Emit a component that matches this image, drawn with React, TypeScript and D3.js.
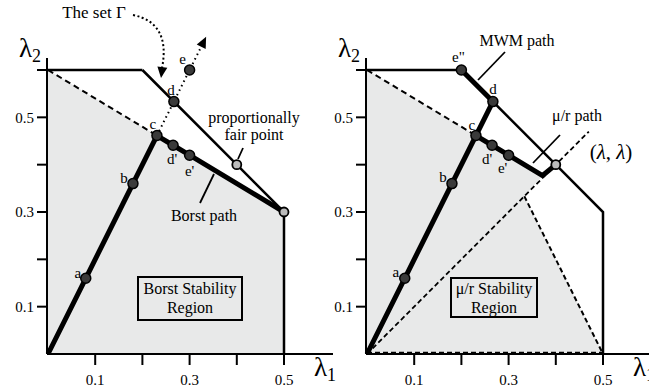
import React from 'react';
import * as d3 from 'd3';

// axis ticks (only odd tenths are labelled)
const xTicks = [0.1, 0.2, 0.3, 0.4, 0.5];
const yTicks = [0.1, 0.2, 0.3, 0.4, 0.5, 0.6];
const xTickLabels = ['0.1', '', '0.3', '', '0.5'];
const yTickLabels = ['0.1', '', '0.3', '', '0.5', ''];

// the set Gamma (capacity region outline)
const capacityTop = [[0, 0.6], [0.2, 0.6]];
const capacityEdge = [[0.2, 0.6], [0.4, 0.4], [0.5, 0.3], [0.5, 0]];

// stability regions
const borstRegion = [[0, 0], [0, 0.6], [0.5, 0.3], [0.5, 0]];
const muRRegion = [[0, 0], [0, 0.6], [0.372, 0.377], [1 / 3, 1 / 3], [0.5, 0]];

// named points
const pointNames = ['a', 'b', 'c', 'd', 'e', "d'", "e'", 'e"'];
const pointX = [0.08, 0.18, 0.2308, 0.2667, 0.3, 0.265, 0.3, 0.2];
const pointY = [0.16, 0.36, 0.4615, 0.5333, 0.6, 0.441, 0.42, 0.6];
const P = (n: string) => { const i = pointNames.indexOf(n); return [pointX[i], pointY[i]]; };

// paths
const borstPath = [[0, 0], P('a'), P('b'), P('c'), P("d'"), P("e'"), [0.5, 0.3]];
const leftDotted = [P('c'), P('d'), P('e'), [0.322, 0.644]];
const arrowTip = [0.335, 0.67];
const mwmPath = [[0, 0], P('a'), P('b'), P('c'), P('d'), P('e"')];
const muRPath = [P('c'), P("d'"), P("e'"), [0.372, 0.377], [0.4, 0.4]];
const leftDashed = [[0, 0.6], P('c')];
const diagLine = [[0, 0], [0.47, 0.47]];
const muRDashEdge = [[1 / 3, 1 / 3], [0.5, 0]];
const muRDashBase = [[0, 0], [0.5, 0]];

const leftDots = ['a', 'b', 'c', 'd', 'e', "d'", "e'"];
const leftOpen = [[0.4, 0.4], [0.5, 0.3]];
const rightDots = ['a', 'b', 'c', 'd', "d'", "e'", 'e"'];
const rightOpen = [[0.4, 0.4]];

const labelOffL: Record<string, number[]> = {
  a: [-8, -6], b: [-9, -6], c: [-4, -12], d: [-3, -12], e: [-7, -11], "d'": [-1, 13], "e'": [0, 16],
};
const labelOffR: Record<string, number[]> = {
  a: [-9, -7], b: [-9, -7], c: [-4, -11], d: [0, -13], "d'": [-5, 13], "e'": [-6, 13], 'e"': [-3, -13],
};

const W = 649;
const H = 390;
const TS = { fontFamily: '"Liberation Serif"' };

const y = d3.scaleLinear().domain([0, 0.6]).range([354, 70]);

function Txt(props: any) {
  return <text {...props} style={TS} />;
}

function Panel({ x0, xEnd, children }: { x0: number; xEnd: number; children?: any }) {
  const x = d3.scaleLinear().domain([0, 0.5]).range([x0, x0 + 236]);
  return (
    <g>
      {children(x)}
      {/* axes */}
      <line x1={x0 - 1} y1={354} x2={x0 - 1} y2={58} stroke="#000" strokeWidth={2} />
      <line x1={x0 - 1} y1={354} x2={xEnd} y2={354} stroke="#000" strokeWidth={2} />
      {yTicks.map((t, i) => (
        <g key={'y' + i}>
          <line x1={x0 - 11} x2={x0 - 1} y1={y(t)} y2={y(t)} stroke="#000" strokeWidth={2} />
          {yTickLabels[i] && (
            <Txt x={x0 - 14} y={y(t)} dy="0.35em" textAnchor="end" fontSize={15}>{yTickLabels[i]}</Txt>
          )}
        </g>
      ))}
      {xTicks.map((t, i) => (
        <g key={'x' + i}>
          <line x1={x(t)} x2={x(t)} y1={354} y2={365} stroke="#000" strokeWidth={2} />
          {xTickLabels[i] && (
            <Txt x={x(t)} y={380} dy="0.35em" textAnchor="middle" fontSize={15}>{xTickLabels[i]}</Txt>
          )}
        </g>
      ))}
      <Txt x={x0 - 29} y={57} fontSize={27}>λ<tspan fontSize={18} dy={5}>2</tspan></Txt>
      <Txt x={x0 + 266} y={376} fontSize={27}>λ<tspan fontSize={18} dy={5}>1</tspan></Txt>
    </g>
  );
}

export default function App() {
  const line = (x: any) => d3.line<number[]>().x(d => x(d[0])).y(d => y(d[1]));

  const dot = (x: any, p: number[], k: string) => (
    <circle key={k} cx={x(p[0])} cy={y(p[1])} r={5} fill="#3a3a3a" stroke="#000" strokeWidth={1.5} />
  );
  const open = (x: any, p: number[], k: string) => (
    <circle key={k} cx={x(p[0])} cy={y(p[1])} r={4.5} fill="#bbb" stroke="#000" strokeWidth={1.8} />
  );
  const label = (x: any, n: string, off: number[]) => (
    <Txt key={'l' + n} x={x(P(n)[0]) + off[0]} y={y(P(n)[1]) + off[1]} dy="0.35em" textAnchor="middle"
      fontSize={15}>{n}</Txt>
  );

  const arrowHead = (x: any, from: number[], to: number[]) => {
    const ax = x(to[0]), ay = y(to[1]);
    const bx = x(from[0]), by = y(from[1]);
    const ang = Math.atan2(ay - by, ax - bx);
    const L = 11, Wd = 5;
    const px = ax - L * Math.cos(ang), py = ay - L * Math.sin(ang);
    const pts = [
      [ax, ay],
      [px + Wd * Math.sin(ang), py - Wd * Math.cos(ang)],
      [px - Wd * Math.sin(ang), py + Wd * Math.cos(ang)],
    ];
    return <polygon points={pts.map(p => p.join(',')).join(' ')} fill="#000" />;
  };

  return (
    <svg width={W} height={H} style={{ position: 'absolute', left: 0, top: 0, background: '#fff' }}>
      {/* LEFT PANEL */}
      <Panel x0={48} xEnd={333}>
        {(x: any) => {
          const ln = line(x);
          return (
            <g>
              <path d={ln(borstRegion as any) + 'Z'} fill="#e8e9e9" />
              <path d={ln(capacityTop as any)!} fill="none" stroke="#000" strokeWidth={2.5} />
              <path d={ln(capacityEdge as any)!} fill="none" stroke="#000" strokeWidth={2.5} />
              <path d={ln(leftDashed as any)!} fill="none" stroke="#000" strokeWidth={2} strokeDasharray="6,4" />
              <path d={ln(leftDotted as any)!} fill="none" stroke="#000" strokeWidth={2} strokeDasharray="1.5,3.5" />
              {arrowHead(x, P('e'), arrowTip)}
              <path d={ln(borstPath as any)!} fill="none" stroke="#000" strokeWidth={5} strokeLinejoin="round" />
              {leftDots.map(n => dot(x, P(n), 'd' + n))}
              {leftOpen.map((p, i) => open(x, p, 'o' + i))}
              {leftDots.map(n => label(x, n, labelOffL[n]))}
              {/* annotations */}
              <Txt x={94} y={12} dy="0.35em" fontSize={17} textAnchor="middle">The set Γ</Txt>
              <path d="M133,15 C158,20 168,38 162,68" fill="none" stroke="#000" strokeWidth={2} strokeDasharray="2,2.5" />
              {arrowHead(x, [x.invert(163), y.invert(62)], [x.invert(161), y.invert(78)])}
              <Txt x={254} y={117} dy="0.35em" fontSize={16} textAnchor="middle">proportionally</Txt>
              <Txt x={254} y={134} dy="0.35em" fontSize={16} textAnchor="middle">fair point</Txt>
              <line x1={243} y1={148} x2={238} y2={159} stroke="#000" strokeWidth={1.8} />
              <line x1={200} y1={203} x2={214} y2={174} stroke="#000" strokeWidth={1.8} />
              <Txt x={204} y={215} dy="0.35em" fontSize={16} textAnchor="middle">Borst path</Txt>
              <rect x={138} y={277} width={104} height={43} fill="none" stroke="#000" strokeWidth={2} />
              <Txt x={190} y={288} dy="0.35em" fontSize={16} textAnchor="middle">Borst Stability</Txt>
              <Txt x={190} y={307} dy="0.35em" fontSize={16} textAnchor="middle">Region</Txt>
            </g>
          );
        }}
      </Panel>

      {/* RIGHT PANEL */}
      <Panel x0={367} xEnd={649}>
        {(x: any) => {
          const ln = line(x);
          return (
            <g>
              <path d={ln(muRRegion as any) + 'Z'} fill="#e8e9e9" />
              <path d={ln(capacityTop as any)!} fill="none" stroke="#000" strokeWidth={2.5} />
              <path d={ln(capacityEdge as any)!} fill="none" stroke="#000" strokeWidth={2.5} />
              <path d={ln(leftDashed as any)!} fill="none" stroke="#000" strokeWidth={2} strokeDasharray="6,4" />
              <path d={ln(diagLine as any)!} fill="none" stroke="#000" strokeWidth={1.8} strokeDasharray="5,3" />
              <path d={ln(muRDashEdge as any)!} fill="none" stroke="#000" strokeWidth={2} strokeDasharray="5,3" />
              <path d={ln(muRDashBase as any)!} transform="translate(0,-1)" fill="none" stroke="#000" strokeWidth={2.5} strokeDasharray="5,3" />
              <path d={ln(mwmPath as any)!} fill="none" stroke="#000" strokeWidth={5} strokeLinejoin="round" />
              <path d={ln(muRPath as any)!} fill="none" stroke="#000" strokeWidth={5} strokeLinejoin="round" />
              {rightDots.map(n => dot(x, P(n), 'd' + n))}
              {rightOpen.map((p, i) => open(x, p, 'o' + i))}
              {rightDots.map(n => label(x, n, labelOffR[n]))}
              <Txt x={517} y={40} dy="0.35em" fontSize={16} textAnchor="middle">MWM path</Txt>
              <line x1={478} y1={80} x2={505} y2={52} stroke="#000" strokeWidth={1.8} />
              <Txt x={577} y={115} dy="0.35em" fontSize={16} textAnchor="middle">μ/r path</Txt>
              <line x1={533} y1={163} x2={560} y2={135} stroke="#000" strokeWidth={1.8} />
              <Txt x={611} y={152} dy="0.35em" fontSize={21} textAnchor="middle">
                (<tspan fontStyle="italic">λ</tspan>, <tspan fontStyle="italic">λ</tspan>)
              </Txt>
              <rect x={451} y={278} width={86} height={39} fill="none" stroke="#000" strokeWidth={2} />
              <Txt x={494} y={288} dy="0.35em" fontSize={16} textAnchor="middle">μ/r Stability</Txt>
              <Txt x={494} y={307} dy="0.35em" fontSize={16} textAnchor="middle">Region</Txt>
            </g>
          );
        }}
      </Panel>
    </svg>
  );
}
